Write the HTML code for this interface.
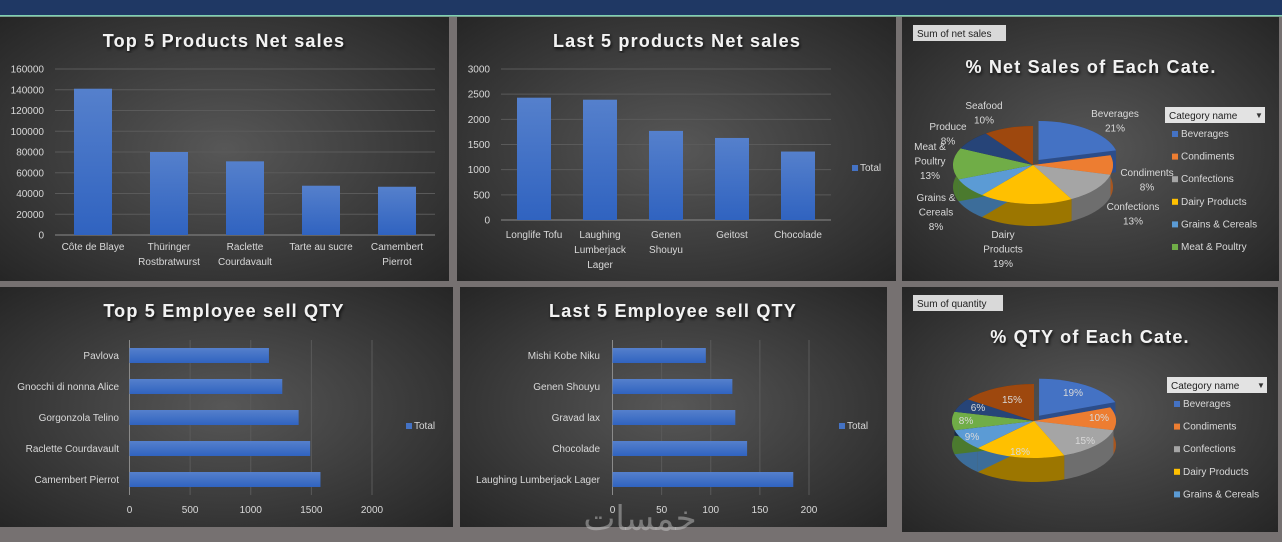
<!DOCTYPE html>
<html><head><meta charset="utf-8">
<style>
html,body{margin:0;padding:0;background:#767171;}
svg{display:block;font-family:"Liberation Sans","DejaVu Sans",sans-serif;}
.t{font-weight:bold;font-size:18px;fill:#f2f2f2;letter-spacing:1.2px;}
.l{font-size:10px;fill:#d9d9d9;}
</style></head>
<body>
<svg id="s" width="1282" height="542" viewBox="0 0 1282 542" xmlns="http://www.w3.org/2000/svg">
<defs>
<radialGradient id="bg" cx="50%" cy="50%" r="70%">
<stop offset="0" stop-color="#575757"/><stop offset="1" stop-color="#262626"/></radialGradient>
<linearGradient id="bar" x1="0" y1="0" x2="0" y2="1"><stop offset="0" stop-color="#5580cc"/><stop offset="1" stop-color="#3063c0"/></linearGradient>
<filter id="sh"><feDropShadow dx="1" dy="2" stdDeviation="1.5" flood-color="#000" flood-opacity="0.8"/></filter>
</defs>
<rect x="0" y="0" width="1282" height="542" fill="#767171"/>
<rect x="0" y="0" width="1282" height="15" fill="#1f3864"/>
<rect x="0" y="15" width="1282" height="1.5" fill="#7fd1b0"/>
<rect x="0" y="17" width="449" height="264" fill="url(#bg)"/>
<rect x="457" y="17" width="439" height="264" fill="url(#bg)"/>
<rect x="902" y="17" width="377" height="264" fill="url(#bg)"/>
<rect x="0" y="287" width="453" height="240" fill="url(#bg)"/>
<rect x="460" y="287" width="427" height="240" fill="url(#bg)"/>
<rect x="902" y="287" width="376" height="245" fill="url(#bg)"/>

<text class="t" x="224" y="47" text-anchor="middle" filter="url(#sh)">Top 5 Products Net sales</text>
<text class="t" x="677" y="47" text-anchor="middle" filter="url(#sh)">Last 5 products Net sales</text>
<text class="t" x="1091" y="73" text-anchor="middle" filter="url(#sh)">% Net Sales of Each Cate.</text>
<text class="t" x="224" y="317" text-anchor="middle" filter="url(#sh)">Top 5 Employee sell QTY</text>
<text class="t" x="673" y="317" text-anchor="middle" filter="url(#sh)">Last 5 Employee sell QTY</text>
<text class="t" x="1090" y="343" text-anchor="middle" filter="url(#sh)">%  QTY of Each Cate.</text>

<rect x="913" y="25" width="93" height="16" fill="#d9d9d9"/>
<text x="917" y="37" font-size="10" fill="#222">Sum of net sales</text>
<rect x="913" y="295" width="90" height="16" fill="#d9d9d9"/>
<text x="917" y="307" font-size="10" fill="#222">Sum of quantity</text>

<text x="640" y="530" text-anchor="middle" font-size="34" fill="#d0d0d0" fill-opacity="0.45" font-family="'DejaVu Sans',sans-serif">خمسات</text>
<g id="g"></g>
</svg>
<script>
// Chart 1: Top 5 products net sales
const c1Cats=[["Côte de Blaye"],["Thüringer","Rostbratwurst"],["Raclette","Courdavault"],["Tarte au sucre"],["Camembert","Pierrot"]];
const c1Vals=[141000,80000,71000,47500,46500];
const c1Ticks=[0,20000,40000,60000,80000,100000,120000,140000,160000];
// Chart 2: Last 5 products net sales
const c2Cats=[["Longlife Tofu"],["Laughing","Lumberjack","Lager"],["Genen","Shouyu"],["Geitost"],["Chocolade"]];
const c2Vals=[2430,2390,1770,1630,1360];
const c2Ticks=[0,500,1000,1500,2000,2500,3000];
// Chart 4: Top 5 employee qty
const c4Cats=["Pavlova","Gnocchi di nonna Alice","Gorgonzola Telino","Raclette Courdavault","Camembert Pierrot"];
const c4Vals=[1150,1260,1395,1490,1575];
const c4Ticks=[0,500,1000,1500,2000];
// Chart 5: Last 5 employee qty
const c5Cats=["Mishi Kobe Niku","Genen Shouyu","Gravad lax","Chocolade","Laughing Lumberjack Lager"];
const c5Vals=[95,122,125,137,184];
const c5Ticks=[0,50,100,150,200];
// Pies
const pieCats=["Beverages","Condiments","Confections","Dairy Products","Grains & Cereals","Meat & Poultry","Produce","Seafood"];
const pie1Vals=[21,8,13,19,8,13,8,10];
const pie2Vals=[19,10,15,18,9,8,6,15];

const NS="http://www.w3.org/2000/svg";
const G=document.getElementById('g');
function mk(tag,at,txt){const e=document.createElementNS(NS,tag);for(const k in at)e.setAttribute(k,at[k]);if(txt!=null)e.textContent=txt;G.appendChild(e);return e;}

function vbar(cats,vals,ticks,x0,x1,y0,y1,barW,labX,labY,name){
  const max=ticks[ticks.length-1];
  const ys=v=>y0-(v/max)*(y0-y1);
  ticks.forEach(t=>{
    const l=mk('line',{x1:x0,x2:x1,y1:ys(t),y2:ys(t),stroke:t===0?'#8a8a8a':'#5a5a5a','stroke-width':1});
    
    
    const tx=mk('text',{x:labX,y:ys(t)+3.5,'text-anchor':'end',class:'l'},String(t));
    
    
  });
  const step=(x1-x0)/cats.length;
  vals.forEach((v,i)=>{
    const cx=x0+step*(i+0.5);
    const r=mk('rect',{x:cx-barW/2,y:ys(v),width:barW,height:y0-ys(v),fill:'url(#bar)'});
    
    
    cats[i].forEach((ln,j)=>{
      const t=mk('text',{x:cx,y:labY+j*15,'text-anchor':'middle',class:'l'},ln);
      
      
    });
  });
}
function hbar(cats,vals,ticks,x0,x1,yTop,yBot,barH,labX,tickY,name){
  const max=ticks[ticks.length-1];
  const xs=v=>x0+(v/max)*(x1-x0);
  ticks.forEach(t=>{
    const l=mk('line',{x1:xs(t),x2:xs(t),y1:yTop,y2:yBot,stroke:t===0?'#8a8a8a':'#5a5a5a','stroke-width':1});
    
    
    const tx=mk('text',{x:xs(t),y:tickY,'text-anchor':'middle',class:'l'},String(t));
    
    
  });
  const step=(yBot-yTop)/cats.length;
  vals.forEach((v,i)=>{
    const cy=yTop+step*(i+0.5);
    const r=mk('rect',{x:x0,y:cy-barH/2,width:xs(v)-x0,height:barH,fill:'url(#bar)'});
    
    
    const t=mk('text',{x:labX,y:cy+3.5,'text-anchor':'end',class:'l'},cats[i]);
    
    
  });
}
function legendTotal(x,y){
  const r=mk('rect',{x:x,y:y-6,width:6,height:6,fill:'#4472c4'});
  
  
  const t=mk('text',{x:x+8,y:y,class:'l'},'Total');
  
  
}
vbar(c1Cats,c1Vals,c1Ticks,55,435,235,69,38,44,250,'top5-products');
vbar(c2Cats,c2Vals,c2Ticks,501,831,220,69,34,490,238,'last5-products');
legendTotal(852,171);
hbar(c4Cats,c4Vals,c4Ticks,129.5,372,340,495,15,119,513,'top5-employee');
legendTotal(406,429);
hbar(c5Cats,c5Vals,c5Ticks,612.5,809,340,495,15,600,513,'last5-employee');
legendTotal(839,429);

const colors=['#4472c4','#ed7d31','#a5a5a5','#ffc000','#5b9bd5','#70ad47','#264478','#9e480e'];
const dark=['#2c4d8a','#a8561f','#6e6e6e','#9c7600','#3c6d9a','#4b7a2e','#17294a','#6b2f08'];
function pie(vals,cx,cy,rx,ry,depth,explode,name){
  const tot=vals.reduce((a,b)=>a+b,0);
  const P=(a,dx,dy,d)=>[cx+dx+rx*Math.sin(a),cy+dy-ry*Math.cos(a)+d];
  let a=0;const sl=[];
  vals.forEach((v,i)=>{const a2=a+v/tot*Math.PI*2;const m=(a+a2)/2;const ex=i===explode?9:0;
    sl.push({a1:a,a2:a2,dx:ex*Math.sin(m),dy:-ex*Math.cos(m)*0.7,i:i});a=a2;});
  sl.forEach(s=>{
    const pts=[];const n=30;
    for(let k=0;k<=n;k++){const t=s.a1+(s.a2-s.a1)*k/n;pts.push(P(t,s.dx,s.dy,0));}
    for(let k=n;k>=0;k--){const t=s.a1+(s.a2-s.a1)*k/n;pts.push(P(t,s.dx,s.dy,depth));}
    const p=mk('polygon',{points:pts.map(q=>q.join(',')).join(' '),fill:dark[s.i]});
    
    
    [s.a1,s.a2].forEach(t=>{const q=P(t,s.dx,s.dy,0);
      const w=mk('polygon',{points:[[cx+s.dx,cy+s.dy],q,[q[0],q[1]+depth],[cx+s.dx,cy+s.dy+depth]].map(z=>z.join(',')).join(' '),fill:dark[s.i]});
      
      });
  });
  sl.forEach(s=>{
    const p1=P(s.a1,s.dx,s.dy,0),p2=P(s.a2,s.dx,s.dy,0);
    const large=(s.a2-s.a1)>Math.PI?1:0;
    const d=`M${cx+s.dx},${cy+s.dy} L${p1[0]},${p1[1]} A${rx},${ry} 0 ${large} 1 ${p2[0]},${p2[1]} Z`;
    const p=mk('path',{d:d,fill:colors[s.i]});
    
    
  });
}
pie(pie1Vals,1033,165,80,39,22,0,'net-sales-pie');
pie(pie2Vals,1034,421,82,37,24,0,'qty-pie');

function lbl(lines,x,y,name){lines.forEach((s,j)=>{const t=mk('text',{x:x,y:y+j*14.5,'text-anchor':'middle',class:'l'},s);
  
  });}
const p1Lab=[[1115,117],[1147,176],[1133,210],[1003,238],[936,201],[930,150],[948,130],[984,109]];
const p1Lines=[["Beverages"],["Condiments"],["Confections"],["Dairy","Products"],["Grains &","Cereals"],["Meat &","Poultry"],["Produce"],["Seafood"]];
pie1Vals.forEach((v,i)=>lbl(p1Lines[i].concat([v+'%']),p1Lab[i][0],p1Lab[i][1],'net-sales-data-label'));
const p2Lab=[[1073,396],[1099,421],[1085,444],[1020,455],[972,440],[966,424],[978,411],[1012,403]];
pie2Vals.forEach((v,i)=>lbl([v+'%'],p2Lab[i][0],p2Lab[i][1],'qty-data-label'));

function catLegend(x,y,n,name){
  const b=mk('rect',{x:x,y:y,width:100,height:16,fill:'#e3e3e3'});
  
  
  const t=mk('text',{x:x+4,y:y+12,'font-size':10,fill:'#222'},'Category name');
  
  
  const a=mk('text',{x:x+90,y:y+11,'font-size':8,fill:'#333'},'▼');
  
  
  for(let i=0;i<n;i++){const yy=y+30+i*22.6;
    const r=mk('rect',{x:x+7,y:yy-6,width:6,height:6,fill:colors[i]});
    
    
    const tt=mk('text',{x:x+16,y:yy,class:'l'},pieCats[i]);
    
    }
}
catLegend(1165,107,6,'net-sales');
catLegend(1167,377,5,'qty');
</script>
</body></html>
